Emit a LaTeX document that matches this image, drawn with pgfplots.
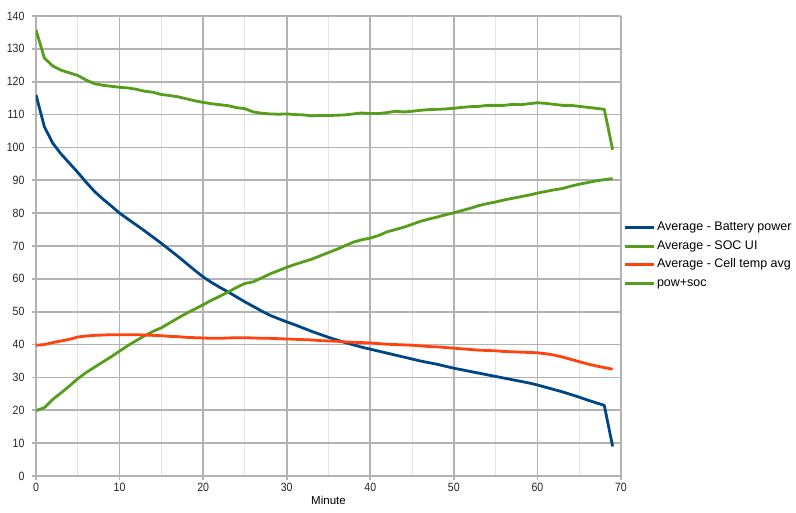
\documentclass[border=0pt]{standalone}
\usepackage{fontspec}
\setmainfont{Liberation Sans}
\newfontfamily\narrowfont[FakeStretch=0.88]{Liberation Sans}
\usepackage{pgfplots}
\usepackage{pgfplotstable}
\pgfplotsset{compat=1.18}
\definecolor{cblue}{HTML}{004586}
\definecolor{cgreen}{HTML}{579D1C}
\definecolor{corange}{HTML}{FF420E}
\definecolor{gridmaj}{RGB}{179,179,179}
\definecolor{gridmin}{RGB}{228,228,228}
\pgfplotstableread{
x pow soc temp sum
0 116.0 19.9 39.8 135.8
1 106.3 20.8 40.0 127.2
2 101.3 23.3 40.6 124.8
3 98.0 25.3 41.1 123.5
4 95.2 27.4 41.6 122.7
5 92.4 29.6 42.3 121.9
6 89.4 31.5 42.6 120.5
7 86.6 33.1 42.8 119.4
8 84.3 34.7 42.9 118.9
9 82.2 36.3 43.0 118.6
10 80.0 38.0 43.0 118.3
11 78.2 39.7 43.0 118.1
12 76.4 41.2 43.0 117.7
13 74.6 42.7 42.9 117.1
14 72.7 44.0 42.8 116.8
15 70.8 45.1 42.7 116.1
16 68.8 46.6 42.5 115.8
17 66.8 48.1 42.4 115.4
18 64.7 49.5 42.2 114.8
19 62.6 50.8 42.1 114.2
20 60.6 52.1 42.0 113.7
21 58.9 53.5 41.9 113.3
22 57.4 54.7 41.9 113.0
23 56.0 56.0 42.0 112.7
24 54.5 57.4 42.1 112.1
25 53.0 58.6 42.1 111.8
26 51.6 59.1 42.0 110.8
27 50.2 60.3 41.9 110.4
28 48.9 61.5 41.9 110.2
29 47.9 62.5 41.8 110.1
30 46.9 63.5 41.7 110.2
31 46.0 64.4 41.6 110.0
32 45.0 65.2 41.5 109.9
33 44.0 66.0 41.4 109.6
34 43.1 67.0 41.2 109.7
35 42.2 68.0 41.1 109.7
36 41.4 69.0 41.0 109.8
37 40.6 70.1 40.8 109.9
38 39.9 71.2 40.7 110.2
39 39.2 71.9 40.6 110.5
40 38.6 72.4 40.5 110.3
41 38.0 73.2 40.3 110.3
42 37.4 74.3 40.1 110.6
43 36.8 75.0 40.0 111.0
44 36.2 75.7 39.9 110.8
45 35.6 76.6 39.8 111.0
46 35.0 77.5 39.6 111.3
47 34.5 78.2 39.4 111.5
48 34.0 78.8 39.3 111.6
49 33.4 79.5 39.1 111.7
50 32.8 80.1 38.9 111.9
51 32.3 80.8 38.7 112.2
52 31.8 81.5 38.5 112.4
53 31.3 82.3 38.3 112.5
54 30.8 82.9 38.2 112.8
55 30.3 83.4 38.1 112.8
56 29.8 84.0 37.9 112.8
57 29.3 84.5 37.8 113.1
58 28.8 85.0 37.7 113.0
59 28.3 85.5 37.6 113.3
60 27.7 86.1 37.5 113.6
61 27.0 86.6 37.2 113.4
62 26.3 87.1 36.8 113.1
63 25.6 87.5 36.2 112.8
64 24.8 88.2 35.5 112.8
65 24.0 88.8 34.8 112.5
66 23.1 89.3 34.1 112.2
67 22.3 89.8 33.5 111.9
68 21.5 90.2 33.0 111.6
69 9.0 90.5 32.5 99.3
}\datatable
\begin{document}
\begin{tikzpicture}[x=1pt,y=1pt]
\path[use as bounding box] (0,0) rectangle (796,513);
\begin{axis}[
  at={(36pt,37pt)}, anchor=origin,
  scale only axis, width=585pt, height=460pt,
  xmin=0, xmax=70, ymin=0, ymax=140,
  xtick={0,10,...,70}, ytick={0,10,...,140},
  minor x tick num=1,
  xmajorgrids, ymajorgrids, xminorgrids,
  major grid style={gridmaj, line width=1.6pt},
  minor grid style={gridmin, line width=1pt},
  axis line style={gridmaj, line width=1.6pt},
  tick style={gridmaj, line width=1.6pt},
  minor tick length=0pt,
  major tick length=4pt,
  tick align=outside,
  axis lines*=left,
  tick label style={font=\narrowfont\fontsize{12}{14}\selectfont, text=black!85},
  yticklabel style={xshift=-4pt},
  /pgf/number format/assume math mode=true,
  xlabel={Minute},
  xlabel style={font=\fontsize{11.5}{13}\selectfont, yshift=2.5pt},
  legend style={at={(1,0.5)}, anchor=west, xshift=2pt, yshift=-9.5pt,
    draw=none, fill=none, inner sep=0pt,
    font=\fontsize{12.5}{14}\selectfont,
    nodes={inner xsep=2pt, inner ysep=3.3pt, text height=9pt, text depth=3pt}},
  legend cell align=left,
  legend image code/.code={\draw[#1] (0pt,0pt) -- (29pt,0pt);},
]
\addplot[cblue, line width=2.8pt, line join=round] table[x=x,y=pow] {\datatable};
\addlegendentry{Average - Battery power}
\addplot[cgreen, line width=2.8pt, line join=round] table[x=x,y=soc] {\datatable};
\addlegendentry{Average - SOC UI}
\addplot[corange, line width=2.8pt, line join=round] table[x=x,y=temp] {\datatable};
\addlegendentry{Average - Cell temp avg}
\addplot[cgreen, line width=2.8pt, line join=round] table[x=x,y=sum] {\datatable};
\addlegendentry{pow+soc}
\end{axis}
\end{tikzpicture}
\end{document}
